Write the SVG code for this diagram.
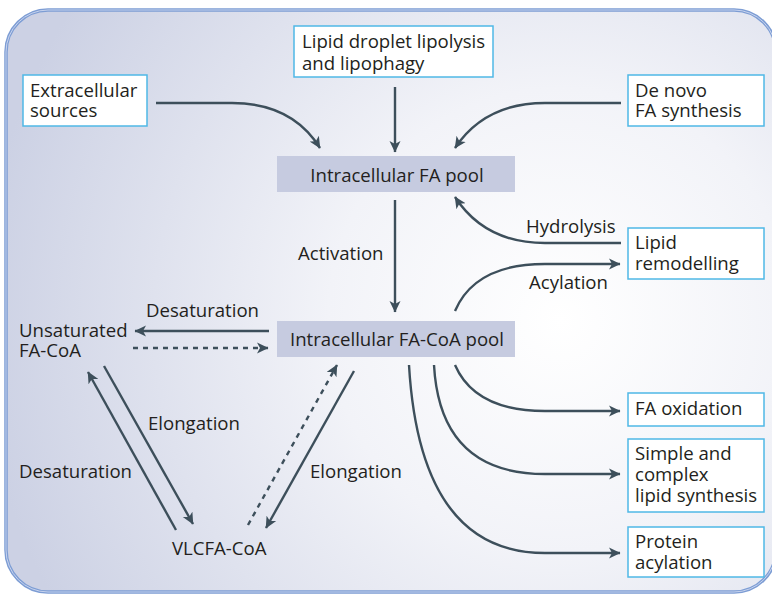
<svg xmlns="http://www.w3.org/2000/svg" width="772" height="594" viewBox="0 0 772 594">
<defs>
<radialGradient id="bg" cx="560" cy="320" r="580" gradientUnits="userSpaceOnUse">
<stop offset="0" stop-color="#ffffff"/>
<stop offset="0.4" stop-color="#f2f3f8"/>
<stop offset="1" stop-color="#ccd1e4"/>
</radialGradient>
<marker id="ah" viewBox="0 0 12 12" refX="11" refY="6" markerWidth="12" markerHeight="12" markerUnits="userSpaceOnUse" orient="auto">
<path d="M0,0.5 L11.5,6 L0,11.5 L3,6 Z" fill="#3d4f5b"/>
</marker>
</defs>
<style>
text{font-family:"Open Sans","Liberation Sans",sans-serif;font-size:18.6px;fill:#231f20}
.box{fill:#ffffff;stroke:#4fb8e6;stroke-width:1.5}
.pool{fill:#c6cbe0}
.c{fill:none;stroke:#3d4f5b;stroke-width:2.4;marker-end:url(#ah)}
.d{stroke-dasharray:5,5}
</style>
<rect x="6" y="10" width="770" height="582" rx="42" fill="url(#bg)" stroke="#7d9dd4" stroke-width="3.5"/>
<rect x="6" y="10" width="770" height="582" rx="42" fill="none" stroke="#c7d3ee" stroke-width="1"/>

<g id="connectors">
<path class="c" d="M156,103 L232,103 Q292,103 320,148"/>
<path class="c" d="M395,87 L395,152"/>
<path class="c" d="M621,103 L545,103 Q485,103 455,148"/>
<path class="c" d="M395,200 L395,312"/>
<path class="c" d="M621,243 L545,243 Q485,243 455,197"/>
<path class="c" d="M455,311 Q475,264 545,264 L620,264"/>
<path class="c" d="M455,365 Q475,411 545,411 L620,411"/>
<path class="c" d="M434,365 Q440,474 545,474 L620,474"/>
<path class="c" d="M409,365 Q420,553 545,553 L620,553"/>
<path class="c" d="M269,331 L135,331"/>
<path class="c d" d="M133,348 L268,348"/>
<path class="c" d="M104,366 L193,524"/>
<path class="c" d="M176,530 L88,372"/>
<path class="c d" d="M248,525 L337,365"/>
<path class="c" d="M354,371 L266,528"/>
</g>

<g id="extracellular">
<rect class="box" x="23" y="75" width="124" height="51"/>
<text x="30" y="97">Extracellular</text>
<text x="30" y="117">sources</text>
</g>
<g id="lipid-droplet">
<rect class="box" x="294" y="26" width="199" height="51"/>
<text x="302" y="48">Lipid droplet lipolysis</text>
<text x="302" y="70">and lipophagy</text>
</g>
<g id="de-novo">
<rect class="box" x="628" y="75" width="136" height="51"/>
<text x="635" y="97">De novo</text>
<text x="635" y="117">FA synthesis</text>
</g>
<g id="fa-pool">
<rect class="pool" x="277" y="156" width="238" height="36"/>
<text x="397" y="182" text-anchor="middle">Intracellular FA pool</text>
</g>
<g id="facoa-pool">
<rect class="pool" x="277" y="321" width="238" height="36"/>
<text x="397" y="346" text-anchor="middle">Intracellular FA-CoA pool</text>
</g>
<g id="lipid-remodelling">
<rect class="box" x="628" y="228" width="136" height="51"/>
<text x="635" y="249">Lipid</text>
<text x="635" y="270">remodelling</text>
</g>
<g id="fa-oxidation">
<rect class="box" x="628" y="393" width="136" height="33"/>
<text x="635" y="415">FA oxidation</text>
</g>
<g id="lipid-synthesis">
<rect class="box" x="628" y="439" width="136" height="73"/>
<text x="635" y="460">Simple and</text>
<text x="635" y="481">complex</text>
<text x="635" y="502">lipid synthesis</text>
</g>
<g id="protein-acylation">
<rect class="box" x="628" y="527" width="136" height="50"/>
<text x="635" y="548">Protein</text>
<text x="635" y="569">acylation</text>
</g>
<g id="unsaturated">
<text x="19" y="337">Unsaturated</text>
<text x="19" y="357">FA-CoA</text>
</g>
<g id="vlcfa">
<text x="172" y="555">VLCFA-CoA</text>
</g>
<g id="labels">
<text x="298" y="260">Activation</text>
<text x="526" y="233">Hydrolysis</text>
<text x="529" y="289">Acylation</text>
<text x="146" y="317">Desaturation</text>
<text x="148" y="430">Elongation</text>
<text x="19" y="478">Desaturation</text>
<text x="310" y="478">Elongation</text>
</g>
</svg>
